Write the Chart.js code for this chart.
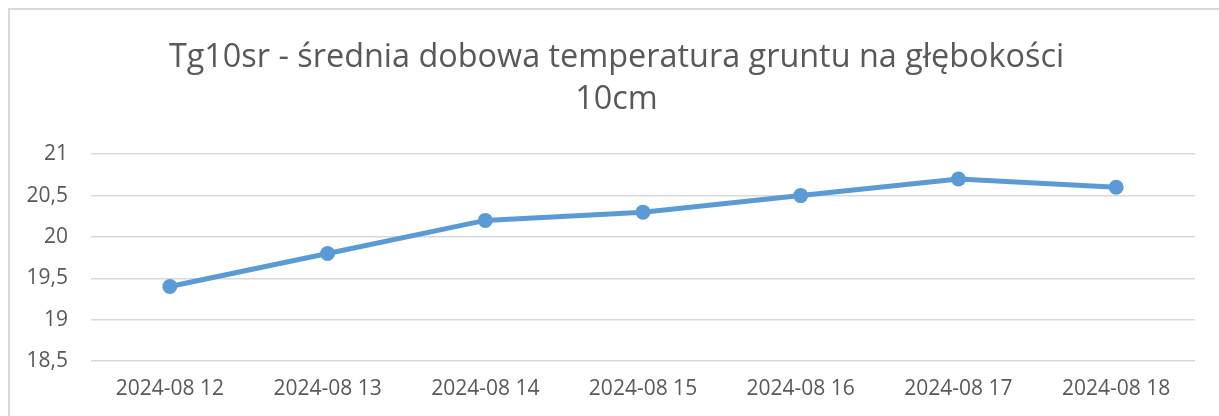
<!DOCTYPE html>
<html>
<head>
<meta charset="utf-8">
<script src="https://cdn.jsdelivr.net/npm/chart.js@4"></script>
<style>
    body { margin: 0; background: #fff; overflow: hidden; }
    #wrap { position: relative; width: 1219px; height: 416px; }
    #frame {
        position: absolute; left: 8px; top: 8px; width: 1300px; height: 500px;
        border: 2px solid #d9d9d9; box-sizing: border-box;
    }
    canvas { position: absolute; left: 0; top: 0; }
</style>
</head>
<body>
<div id="wrap">
    <div id="frame"></div>
    <canvas id="chart" width="1219" height="416"></canvas>
</div>
<script>
const dates = ["2024-08 12", "2024-08 13", "2024-08 14", "2024-08 15", "2024-08 16", "2024-08 17", "2024-08 18"];
const tg10sr = [19.4, 19.8, 20.2, 20.3, 20.5, 20.7, 20.6];
const titleLines = ["Tg10sr - średnia dobowa temperatura gruntu na głębokości", "10cm"];

const TEXT = "#595959";
const BLUE = "#5b9bd5";
const FONT = "'Open Sans', sans-serif";

const ctx = document.getElementById("chart").getContext("2d");

const chart = new Chart(ctx, {
    type: "line",
    data: {
        labels: dates,
        datasets: [{
            data: tg10sr,
            yAxisID: "y",
            borderColor: BLUE,
            backgroundColor: BLUE,
            borderWidth: 5,
            pointRadius: 7.5,
            pointHoverRadius: 7.5,
            pointBorderWidth: 0,
            tension: 0
        }]
    },
    options: {
        responsive: false,
        animation: false,
        layout: { padding: { left: 14, right: 0, top: 0, bottom: 0 } },
        scales: {
            x: {
                offset: true,
                grid: { display: false, drawTicks: false },
                border: { display: false },
                ticks: {
                    color: TEXT,
                    font: { family: FONT, size: 21 },
                    padding: 15,
                    maxRotation: 0
                },
                afterFit: function(scale) { scale.height = 55; }
            },
            y: {
                min: 18.5,
                max: 21,
                grid: { color: "#d9d9d9", lineWidth: 1.5, drawTicks: false },
                border: { display: false },
                ticks: {
                    stepSize: 0.5,
                    color: TEXT,
                    font: { family: FONT, size: 21 },
                    padding: 23,
                    callback: function(v) { return String(v).replace(".", ","); }
                },
                afterFit: function(scale) { scale.width = 77; }
            },
            // empty right gutter so the title stays centred on the frame
            gutter: {
                position: "right",
                display: true,
                grid: { display: false, drawTicks: false },
                border: { display: false },
                ticks: { display: false },
                afterFit: function(scale) { scale.width = 24; }
            }
        },
        plugins: {
            legend: { display: false },
            tooltip: { enabled: false },
            title: {
                display: true,
                text: titleLines,
                color: TEXT,
                font: { family: FONT, size: 32.4, weight: "normal", lineHeight: 1.3 },
                padding: { top: 37, bottom: 33 }
            }
        }
    }
});
</script>
</body>
</html>
